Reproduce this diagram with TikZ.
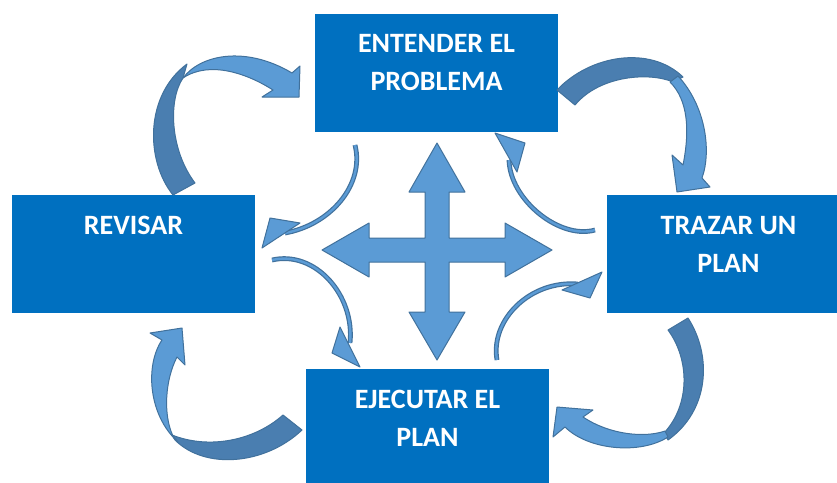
\documentclass[tikz,border=0pt]{standalone}
\usepackage{fontspec}
\setmainfont{Carlito}
\definecolor{cajaazul}{HTML}{0070C0}
\definecolor{flechaclaro}{HTML}{5B9BD5}
\definecolor{flechaoscuro}{HTML}{4A7EB0}
\definecolor{borde}{HTML}{41719C}
\tikzset{
  caja/.style={fill=cajaazul,minimum width=243pt,minimum height=118pt,inner sep=0pt},
  texto/.style={anchor=north,yshift=-21pt,inner sep=0pt,text=white,align=center,font=\bfseries\fontsize{28}{38}\selectfont},
  frente/.style={fill=flechaclaro,draw=borde,line width=1pt,line join=round},
  dorso/.style={fill=flechaoscuro,draw=borde,line width=1pt,line join=round},
  hilo/.style={draw=borde,double=flechaclaro,line width=1.2pt,double distance=2.4pt},
}
\begin{document}
\begin{tikzpicture}[x=1pt,y=-1pt]
  \useasboundingbox (0,0) rectangle (837,482);

  \node[caja,label={[texto]north:ENTENDER EL\\PROBLEMA}] (entender) at (436.5,72.5) {};
  \node[caja,label={[texto]north:REVISAR}] (revisar) at (133.5,254) {};
  \node[caja,label={[texto]north:TRAZAR UN\\PLAN}] (trazar) at (728.5,254) {};
  \node[caja,label={[texto]north:EJECUTAR EL\\PLAN}] (ejecutar) at (427.5,428) {};

  \draw[dorso] (173,195) .. controls (145,160) and (145,95) .. (187,64) -- (183,78) .. controls (168,100) and (170,150) .. (195,183) -- cycle; %revisar -> entender
  \draw[frente] (183,78) .. controls (200,55) and (245,45) .. (292,73) -- (300,66) -- (299,97) -- (262,97) -- (273,90) .. controls (248,74) and (210,60) .. (183,78) -- cycle;

  \draw[dorso] (557,90) .. controls (590,55) and (650,45) .. (683,77) -- (673,82) .. controls (650,72) and (600,75) .. (575,105) -- cycle; %entender -> trazar
  \draw[frente] (678,76) .. controls (705,105) and (712,150) .. (702,178) -- (710,187) -- (677,192) -- (672,155) -- (683,165) .. controls (690,130) and (688,100) .. (670,82) -- cycle;

  \draw[dorso] (688,318) .. controls (712,355) and (710,410) .. (668,440) -- (664,433) .. controls (690,405) and (690,360) .. (668,330) -- cycle; %trazar -> ejecutar
  \draw[frente] (668,437) .. controls (640,455) and (588,450) .. (565,427) -- (553,437) -- (557,407) -- (593,410) -- (583,417) .. controls (610,435) and (645,438) .. (665,431) -- cycle;

  \draw[dorso] (302,430) .. controls (265,465) and (205,470) .. (175,440) -- (172,435) .. controls (210,450) and (255,440) .. (283,415) -- cycle; %ejecutar -> revisar
  \draw[frente] (178,442) .. controls (148,415) and (145,365) .. (162,340) -- (150,333) -- (182,328) -- (185,365) -- (177,357) .. controls (165,380) and (163,415) .. (173,436) -- cycle;

  \draw[hilo] (355,145) .. controls (365,185) and (330,225) .. (285,233); %flechas finas
  \draw[frente] (270,218) -- (300,223) -- (262,248) -- cycle;
  \draw[hilo] (272,260) .. controls (315,250) and (355,295) .. (350,343);
  \draw[frente] (340,327) -- (360,367) -- (332,353) -- cycle;
  \draw[hilo] (595,230) .. controls (560,240) and (510,200) .. (509,160);
  \draw[frente] (495,133) -- (525,143) -- (517,172) -- cycle;
  \draw[hilo] (497,360) .. controls (490,320) and (530,280) .. (578,284);
  \draw[frente] (562,290) -- (602,272) -- (590,298) -- cycle;

  \draw[frente] (437,143) -- (465,192) -- (449,192) -- (449,238) -- (505,238) -- (505,223) -- (552,250) -- (505,277) -- (505,262) -- (449,262) -- (449,312) -- (465,312) -- (437,360) -- (409,312) -- (425,312) -- (425,262) -- (369,262) -- (369,277) -- (322,250) -- (369,223) -- (369,238) -- (425,238) -- (425,192) -- (409,192) -- cycle; %cruz central
\end{tikzpicture}
\end{document}
